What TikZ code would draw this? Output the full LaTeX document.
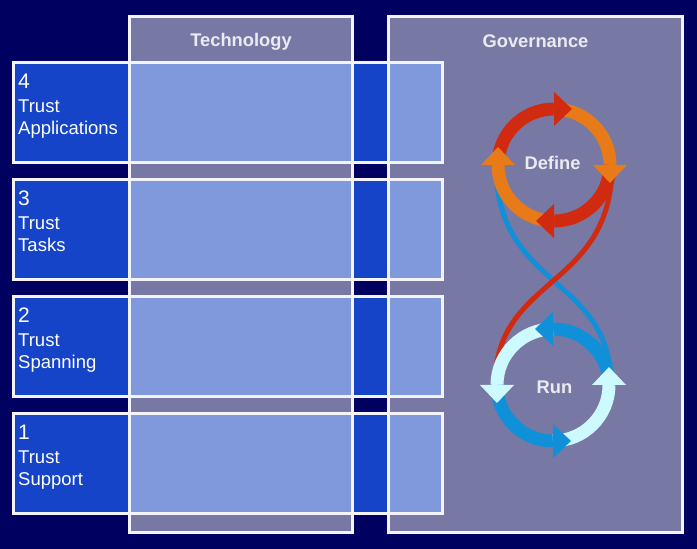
\documentclass[tikz,border=0pt]{standalone}
\usepackage{fontspec}
\setmainfont{Liberation Sans}
\usetikzlibrary{calc}
\definecolor{navy}{HTML}{000060}
\definecolor{colfill}{HTML}{7878A4}
\definecolor{rowfill}{HTML}{1644C8}
\definecolor{overfill}{HTML}{8099DC}
\definecolor{hdr}{HTML}{EAEAF2}
\definecolor{frameclr}{HTML}{F4F4F8}
\definecolor{dred}{HTML}{D02A10}
\definecolor{dorange}{HTML}{E87A18}
\definecolor{rblue}{HTML}{1090D8}
\definecolor{rlight}{HTML}{CCFAFF}
\begin{document}
\begin{tikzpicture}[x=1pt,y=1pt,
  frame/.style={draw=frameclr, line width=3pt},
  ring/.style={line width=13pt},
  twist/.style={line width=5pt},
  hdrtext/.style={text=hdr, font=\bfseries\fontsize{18.3}{20}\selectfont, inner sep=0pt, anchor=base},
  rowtext/.style={text=white, font=\fontsize{18.5}{22}\selectfont, inner sep=0pt, anchor=base west},
  numtext/.style={text=white, font=\fontsize{21}{24}\selectfont, inner sep=0pt, anchor=base west},
]
\fill[navy] (0,0) rectangle (697,549);
\useasboundingbox (0,0) rectangle (697,549);
% columns
\coordinate (tech-sw) at (129,16); \coordinate (tech-ne) at (352,532);
\coordinate (gov-sw) at (388,16); \coordinate (gov-ne) at (682,532);
\fill[colfill] (tech-sw) rectangle (tech-ne);
\fill[colfill] (gov-sw) rectangle (gov-ne);
% rows
\foreach \t in {486,369,252,135} {
  \fill[rowfill] (13,\t-100) rectangle (442,\t);
  \fill[overfill] (129,\t-100) rectangle (352,\t);
  \fill[overfill] (388,\t-100) rectangle (442,\t);
}
% borders
\draw[frame] (tech-sw) rectangle (tech-ne);
\draw[frame] (gov-sw) rectangle (gov-ne);
\foreach \t in {486,369,252,135} {
  \draw[frame] (13,\t-100) rectangle (442,\t);
  \draw[frame] (129,\t) -- (129,\t-100);
  \draw[frame] (352,\t) -- (352,\t-100);
  \draw[frame] (388,\t) -- (388,\t-100);
}
% headers
\node[hdrtext] (tech) at (241,502) {Technology};
\node[hdrtext] (gov) at (535.5,501.5) {Governance};
% row labels
\foreach \i/\t/\nm in {4/486/Applications,3/369/Tasks,2/252/Spanning,1/135/Support} {
  \node[numtext] (num\i) at (18,\t-26) {\i};
  \node[rowtext] (trust\i) at (18,\t-50) {Trust};
  \node[rowtext] (kind\i) at (18,\t-72) {\nm};
}
% figure eight
\coordinate (D) at (554,384);
\coordinate (R) at (553,164);
\coordinate (Dl) at ($(D)+(-58,0)$);
\coordinate (Dr) at ($(D)+(58,0)$);
\coordinate (Rl) at ($(R)+(-58,0)$);
\coordinate (Rr) at ($(R)+(58,0)$);
\draw[twist, rblue] (Dl) .. controls +(0,-125) and +(0,110) .. (Rr);
\draw[twist, dred] (Dr) .. controls +(0,-125) and +(0,110) .. (Rl);
% Define ring (clockwise)
\foreach \a/\c in {180/dred, 90/dorange, 0/dred, -90/dorange}
  \draw[ring, \c] ($(D)+(\a:56)$) arc[start angle=\a, end angle=\a-90, radius=56];
\foreach \a/\c in {180/dred, 90/dorange, 0/dred, -90/dorange}
  \fill[\c] ($(D)+(\a-90:39)$) -- ($(D)+(\a-90:73)$) -- ($(D)+(\a-90:56)+(\a-180:18)$) -- cycle;
% Run ring (counterclockwise)
\foreach \a/\c in {0/rblue, 90/rlight, 180/rblue, 270/rlight}
  \draw[ring, \c] ($(R)+(\a:56)$) arc[start angle=\a, end angle=\a+90, radius=56];
\foreach \a/\c in {0/rblue, 90/rlight, 180/rblue, 270/rlight}
  \fill[\c] ($(R)+(\a+90:39)$) -- ($(R)+(\a+90:73)$) -- ($(R)+(\a+90:56)+(\a+180:18)$) -- cycle;
\node[hdrtext] (define) at (552.5,379.7) {Define};
\node[hdrtext] (run) at (554.5,155) {Run};
\end{tikzpicture}
\end{document}
